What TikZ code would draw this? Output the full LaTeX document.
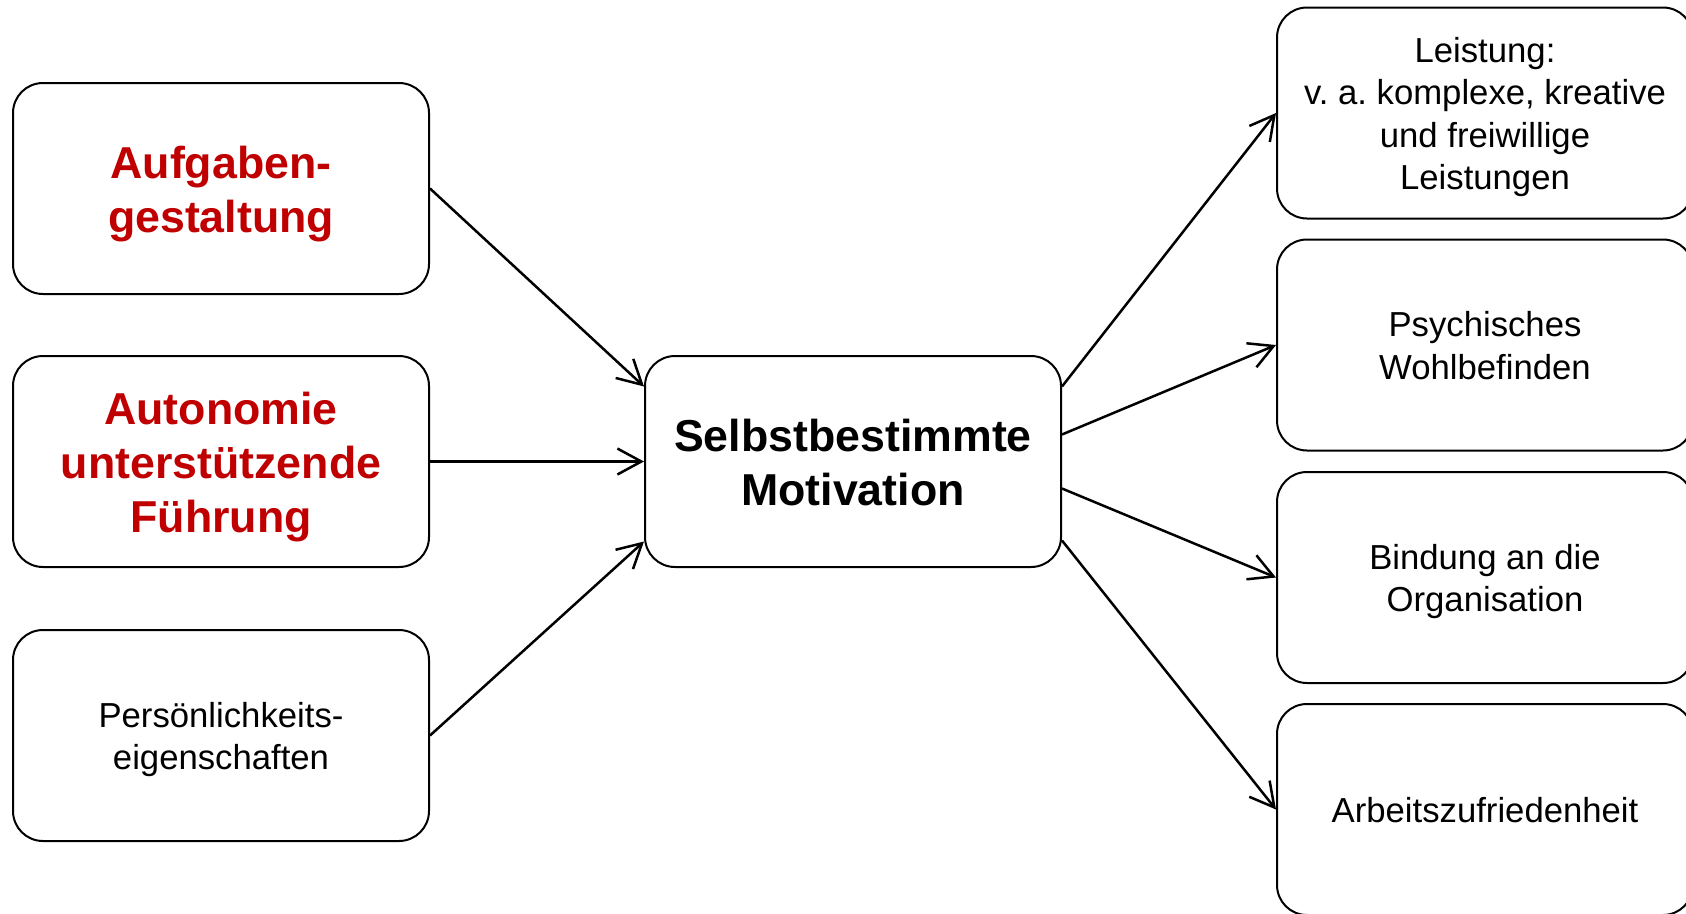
\documentclass[tikz,border=0pt]{standalone}
\usepackage{fontspec}
\setmainfont{Liberation Sans}
\frenchspacing
\usetikzlibrary{arrows.meta}
\definecolor{accentred}{HTML}{C00000}
\newcommand\ls{\rule[-0.22em]{0pt}{1.19em}}
\tikzset{
  box/.style={draw=black, line width=2pt, rounded corners=30pt, fill=white,
    minimum width=416pt, minimum height=211pt, inner sep=0pt, align=center,
    font=\fontsize{34.7pt}{42.2pt}\selectfont},
  boldbox/.style={box, font=\fontsize{44.7pt}{54pt}\selectfont\bfseries},
  redtext/.style={text=accentred},
  conn/.style={line width=2.5pt, -{Straight Barb[length=24pt,width=26pt]}}
}
\begin{document}
\begin{tikzpicture}[x=1pt,y=-1pt]
\useasboundingbox (0,0) rectangle (1686,913);
\clip (0,0) rectangle (1686,913);
\fill[white] (0,0) rectangle (1686,913);
% left column
\node[boldbox, redtext] (L1) at (221,188.5) {\ls Aufgaben-\\gestaltung\ls};
\node[boldbox, redtext] (L2) at (221,461.5) {\ls Autonomie\\unterstützende\\Führung\ls};
\node[box] (L3) at (221,735.5) {\ls Persönlichkeits-\\eigenschaften\ls};
% center
\node[boldbox] (C) at (853,461.5) {\ls Selbstbestimmte\\Motivation\ls};
% right column
\node[box] (R1) at (1485,113) {\ls Leistung:\\v. a. komplexe, kreative\\und freiwillige\\Leistungen\ls};
\node[box] (R2) at (1485,345) {\ls Psychisches\\Wohlbefinden\ls};
\node[box] (R3) at (1485,577.5) {\ls Bindung an die\\Organisation\ls};
\node[box] (R4) at (1485,809.5) {\ls Arbeitszufriedenheit\ls};
% connectors
\draw[conn] (L1.east) -- ([yshift=75pt]C.west);
\draw[conn] (L2.east) -- (C.west);
\draw[conn] (L3.east) -- ([yshift=-80pt]C.west);
\draw[conn] ([yshift=75pt]C.east) -- (R1.west);
\draw[conn] ([yshift=27pt]C.east) -- (R2.west);
\draw[conn] ([yshift=-27pt]C.east) -- (R3.west);
\draw[conn] ([yshift=-79pt]C.east) -- (R4.west);
\end{tikzpicture}
\end{document}
